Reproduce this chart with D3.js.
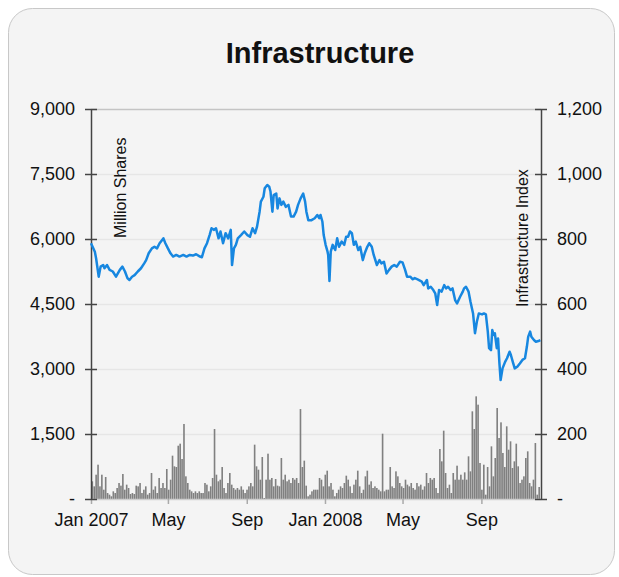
<!DOCTYPE html>
<html>
<head>
<meta charset="utf-8">
<script src="https://cdn.jsdelivr.net/npm/d3@7"></script>
<style>
  body { margin: 0; background: #fff; font-family: Arial, "Liberation Sans", sans-serif; }
</style>
</head>
<body>
<svg id="chart" width="619" height="577"></svg>
<script>
// ---- data ----
var startDate = "2007-01-01";
var endDate   = "2008-12-03";

var xTickDates  = ["2007-01-01", "2007-05-01", "2007-09-01", "2008-01-01", "2008-05-01", "2008-09-01"];
var xTickLabels = ["Jan 2007", "May", "Sep", "Jan 2008", "May", "Sep"];

var leftTicks       = [0, 1500, 3000, 4500, 6000, 7500, 9000];
var leftTickLabels  = ["-", "1,500", "3,000", "4,500", "6,000", "7,500", "9,000"];
var rightTicks      = [0, 200, 400, 600, 800, 1000, 1200];
var rightTickLabels = ["-", "200", "400", "600", "800", "1,000", "1,200"];

// infrastructure index: [days since start, index value]
var indexSeries = [
  [0,787],[6,761],[8,740],[12,684],[15,715],[19,720],[21,710],[25,720],[29,705],[34,700],
  [39,684],[45,705],[49,715],[53,700],[57,679],[60,674],[64,684],[68,689],[73,700],[78,710],
  [83,725],[86,735],[90,756],[95,771],[99,776],[103,771],[107,787],[111,797],[113,802],[116,787],
  [120,771],[124,756],[128,746],[133,751],[138,746],[144,751],[149,746],[154,751],[159,749],[164,753],
  [170,746],[173,744],[177,771],[181,787],[185,812],[188,833],[192,828],[195,833],[199,802],[202,823],
  [206,787],[210,818],[214,802],[218,828],[220,720],[223,771],[226,782],[229,802],[234,812],[239,823],
  [244,812],[248,807],[252,833],[256,818],[259,838],[263,884],[265,915],[269,930],[271,956],[275,966],
  [278,961],[280,946],[283,884],[285,935],[289,940],[291,894],[294,925],[297,905],[300,915],[304,899],
  [308,905],[312,869],[316,869],[320,884],[323,905],[327,925],[331,940],[334,915],[336,884],[339,858],
  [344,858],[349,864],[353,874],[356,864],[358,874],[361,853],[363,812],[366,782],[369,761],[370,751],
  [372,671],[374,761],[377,782],[381,766],[384,802],[387,776],[391,792],[395,782],[398,807],[401,807],
  [404,823],[407,818],[410,782],[413,792],[417,766],[420,776],[424,735],[427,756],[431,776],[434,787],
  [438,776],[441,751],[446,720],[450,735],[453,725],[457,730],[461,694],[465,705],[469,715],[473,720],
  [477,715],[482,730],[486,728],[490,705],[493,684],[498,684],[502,676],[505,680],[511,674],[516,669],
  [519,658],[524,674],[526,648],[530,653],[534,643],[537,633],[540,597],[543,643],[547,638],[551,658],
  [554,648],[557,653],[561,643],[564,648],[568,612],[571,602],[576,623],[580,638],[582,648],[585,653],
  [589,638],[592,607],[596,571],[599,510],[602,546],[605,571],[610,568],[613,571],[616,568],[619,515],
  [621,464],[624,458],[626,520],[628,505],[630,510],[633,464],[635,494],[637,422],[639,366],[642,402],
  [646,422],[649,433],[653,453],[655,443],[658,422],[661,402],[665,407],[669,417],[673,428],[677,433],
  [680,469],[682,499],[685,515],[687,499],[691,489],[694,484],[698,486],[701,489]
];

// traded volume, million shares, one bar per session (left to right)
var volume = [
  408,292,561,792,292,561,215,508,138,100,62,177,138,254,369,308,577,215,331,254,
  115,138,115,308,292,369,138,215,292,100,138,600,215,292,138,485,254,369,254,692,
  215,446,1000,754,738,1230,1277,923,1731,523,369,215,177,138,177,138,177,138,138,369,
  331,177,292,485,1615,561,408,446,738,254,138,369,600,331,254,215,254,215,292,215,
  138,215,292,369,292,1254,754,677,446,969,23,446,1046,446,485,292,461,308,292,946,
  446,561,408,446,369,485,446,485,369,2076,738,885,308,62,100,177,215,
  215,215,485,446,292,561,654,292,369,215,62,138,215,292,254,369,538,446,292,138,
  331,446,654,292,138,215,523,654,331,408,254,292,254,215,177,1507,177,215,215,738,
  292,254,638,523,369,292,254,446,331,292,369,254,215,369,292,331,215,292,600,369,
  485,446,485,254,138,1154,869,1577,600,254,331,138,600,446,769,446,561,446,615,446,
  985,638,2023,1615,2369,2177,831,215,792,100,738,292,1215,523,946,2100,1408,1769,1062,738,
  1677,1138,1331,715,869,1277,754,369,446,523,946,1100,369,292,446,1292,100,277
];

// ---- layout ----
var plot = {left: 91, right: 541, top: 109, bottom: 499};
var parse = d3.timeParse("%Y-%m-%d");
var t0 = parse(startDate);

var svg = d3.select("#chart");

svg.append("rect")
  .attr("x", 8.5).attr("y", 8.5)
  .attr("width", 606).attr("height", 566)
  .attr("rx", 24)
  .attr("fill", "#f4f4f4")
  .attr("stroke", "#c8c8c8");

svg.append("text")
  .attr("x", 320).attr("y", 63)
  .attr("text-anchor", "middle")
  .style("font-size", "29px")
  .style("font-weight", "bold")
  .style("fill", "#111")
  .text("Infrastructure");

var x = d3.scaleTime()
  .domain([t0, parse(endDate)])
  .range([plot.left, plot.right]);
var xb = d3.scaleBand()
  .domain(d3.range(volume.length))
  .range([plot.left + 0.5, plot.right - 1])
  .paddingInner(0.15);
var yL = d3.scaleLinear().domain([0, 9000]).range([plot.bottom, plot.top]);
var yR = d3.scaleLinear().domain([0, 1200]).range([plot.bottom, plot.top]);

// gridlines
svg.append("g").selectAll("line")
  .data(leftTicks.filter(function(d){ return d > 0; }))
  .join("line")
  .attr("x1", plot.left).attr("x2", plot.right)
  .attr("y1", function(d){ return yL(d) + 0.5; })
  .attr("y2", function(d){ return yL(d) + 0.5; })
  .attr("stroke", function(d){ return d === 9000 ? "#c4c4c4" : "#e6e6e6"; })
  .attr("stroke-width", 1.5);

// volume bars
svg.append("g").selectAll("rect")
  .data(volume)
  .join("rect")
  .attr("x", function(d, i){ return xb(i); })
  .attr("width", xb.bandwidth())
  .attr("y", function(d){ return yL(d); })
  .attr("height", function(d){ return yL(0) - yL(d); })
  .attr("fill", "#808080");

// bottom axis
var xAxis = svg.append("g")
  .attr("transform", "translate(0," + plot.bottom + ")")
  .call(d3.axisBottom(x)
    .tickValues(xTickDates.map(parse))
    .tickFormat(function(d, i){ return xTickLabels[i]; })
    .tickSize(5).tickPadding(9).tickSizeOuter(0));
xAxis.select(".domain").attr("stroke", "#cfcfcf").attr("stroke-width", 1.5);
xAxis.selectAll(".tick line").attr("stroke", "#aaa").attr("stroke-width", 1.5);

// left axis
var lAxis = svg.append("g")
  .attr("transform", "translate(" + plot.left + ",0)")
  .call(d3.axisLeft(yL)
    .tickValues(leftTicks)
    .tickFormat(function(d, i){ return leftTickLabels[i]; })
    .tickSize(6).tickPadding(10).tickSizeOuter(0));
lAxis.selectAll(".tick line").attr("x1", 6);

// right axis
var rAxis = svg.append("g")
  .attr("transform", "translate(" + plot.right + ",0)")
  .call(d3.axisRight(yR)
    .tickValues(rightTicks)
    .tickFormat(function(d, i){ return rightTickLabels[i]; })
    .tickSize(6).tickPadding(10).tickSizeOuter(0));
rAxis.selectAll(".tick line").attr("x1", -6);

[lAxis, rAxis].forEach(function(a){
  a.select(".domain").attr("stroke", "#444").attr("stroke-width", 1.5);
  a.selectAll(".tick line").attr("stroke", "#444").attr("stroke-width", 1.5);
});
[xAxis, lAxis, rAxis].forEach(function(a){
  a.selectAll("text")
    .style("font-size", "18px")
    .style("font-family", "Arial, 'Liberation Sans', sans-serif")
    .attr("fill", "#111");
});

// axis titles
svg.append("text")
  .attr("transform", "translate(126,238) rotate(-90)")
  .style("font-size", "16px").style("fill", "#111")
  .text("Million Shares");
svg.append("text")
  .attr("transform", "translate(528,307) rotate(-90)")
  .style("font-size", "16px").style("fill", "#111")
  .text("Infrastructure Index");

// index line
var line = d3.line()
  .x(function(d){ return x(d3.timeDay.offset(t0, d[0])); })
  .y(function(d){ return yR(d[1]); });

svg.append("path")
  .datum(indexSeries)
  .attr("d", line)
  .attr("fill", "none")
  .attr("stroke", "#1787e0")
  .attr("stroke-width", 2.5)
  .attr("stroke-linejoin", "round");
</script>
</body>
</html>
